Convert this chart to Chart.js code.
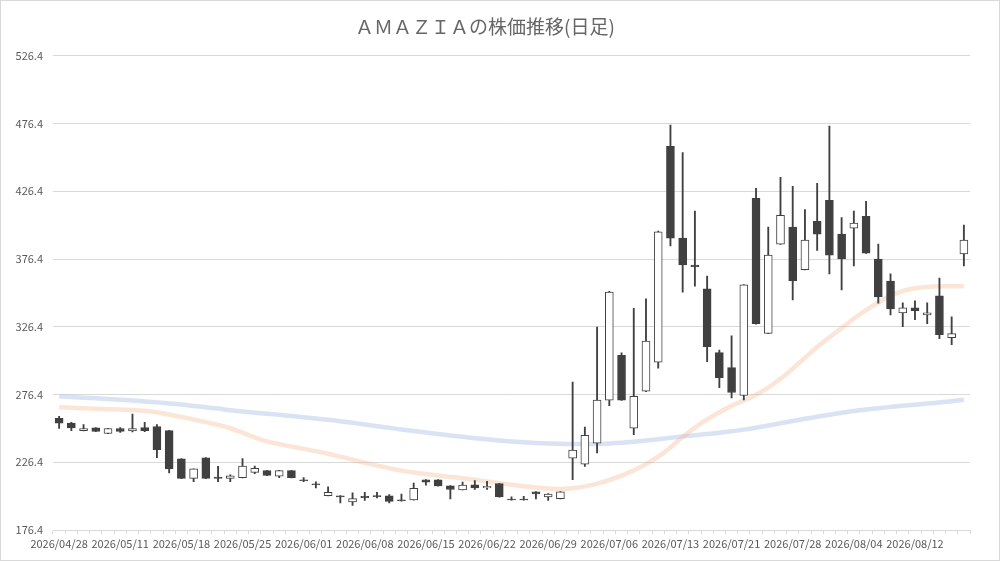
<!DOCTYPE html>
<html>
<head>
<meta charset="utf-8">
<script src="https://cdn.jsdelivr.net/npm/chart.js@4.4.1/dist/chart.umd.min.js"></script>
<style>
  html, body { margin: 0; padding: 0; background: #fff; }
  #wrap { width: 1000px; height: 561px; }
</style>
</head>
<body>
<div id="wrap"><canvas id="myChart" width="1000" height="561"></canvas></div>
<script>
// trading days (every 5th one is shown on the axis)
const dates = [
  "2026/04/28", "2026/04/30", "2026/05/01", "2026/05/07", "2026/05/08",
  "2026/05/11", "2026/05/12", "2026/05/13", "2026/05/14", "2026/05/15",
  "2026/05/18", "2026/05/19", "2026/05/20", "2026/05/21", "2026/05/22",
  "2026/05/25", "2026/05/26", "2026/05/27", "2026/05/28", "2026/05/29",
  "2026/06/01", "2026/06/02", "2026/06/03", "2026/06/04", "2026/06/05",
  "2026/06/08", "2026/06/09", "2026/06/10", "2026/06/11", "2026/06/12",
  "2026/06/15", "2026/06/16", "2026/06/17", "2026/06/18", "2026/06/19",
  "2026/06/22", "2026/06/23", "2026/06/24", "2026/06/25", "2026/06/26",
  "2026/06/29", "2026/06/30", "2026/07/01", "2026/07/02", "2026/07/03",
  "2026/07/06", "2026/07/07", "2026/07/08", "2026/07/09", "2026/07/10",
  "2026/07/13", "2026/07/14", "2026/07/15", "2026/07/16", "2026/07/17",
  "2026/07/21", "2026/07/22", "2026/07/23", "2026/07/24", "2026/07/27",
  "2026/07/28", "2026/07/29", "2026/07/30", "2026/07/31", "2026/08/03",
  "2026/08/04", "2026/08/05", "2026/08/06", "2026/08/07", "2026/08/10",
  "2026/08/12", "2026/08/13", "2026/08/14", "2026/08/17", "2026/08/18",
];

const opens = [
  258.8, 255.3, 249.8, 251.8, 247.6, 251.3, 249.5, 252.0, 252.8, 249.8,
  228.9, 214.5, 229.7, 215.5, 214.5, 215.0, 218.9, 220.2, 216.2, 220.2,
  213.5, 210.5, 201.8, 201.6, 197.1, 201.3, 201.8, 201.6, 198.6, 198.6,
  213.5, 213.5, 209.0, 206.0, 209.8, 207.5, 210.7, 199.3, 199.3, 204.5,
  200.8, 199.5, 229.4, 224.9, 240.4, 272.2, 305.4, 251.5, 278.8, 300.3,
  459.5, 391.8, 372.0, 354.4, 307.3, 296.3, 275.7, 421.2, 321.5, 387.4,
  399.9, 368.5, 404.3, 419.8, 394.8, 399.2, 408.0, 376.4, 360.2, 336.7,
  340.4, 335.2, 349.2, 318.3, 380.1,
];
const highs = [
  260.3, 255.8, 254.3, 252.0, 251.5, 252.0, 262.0, 255.8, 254.3, 250.0,
  229.1, 221.5, 229.9, 223.4, 217.2, 229.2, 223.6, 220.5, 220.4, 220.4,
  215.0, 212.0, 208.3, 201.8, 203.8, 204.2, 204.2, 202.5, 203.0, 211.0,
  213.7, 213.7, 209.2, 211.7, 212.8, 212.4, 210.9, 200.8, 201.3, 204.7,
  203.2, 204.7, 285.5, 252.3, 326.1, 352.5, 307.1, 340.1, 347.0, 397.0,
  475.3, 455.0, 411.7, 363.9, 309.2, 319.8, 357.5, 428.6, 399.9, 436.7,
  430.1, 412.9, 432.3, 474.6, 407.0, 411.7, 419.0, 387.4, 365.4, 344.0,
  345.5, 344.0, 362.4, 333.8, 401.4,
];
const lows = [
  251.3, 249.8, 249.6, 249.0, 247.5, 248.5, 248.7, 249.0, 229.7, 218.5,
  214.2, 212.0, 214.2, 212.0, 212.0, 214.8, 218.0, 216.5, 215.0, 214.8,
  212.0, 207.5, 201.5, 196.3, 194.5, 198.3, 200.0, 196.3, 197.6, 198.4,
  209.5, 208.8, 199.3, 206.0, 206.3, 206.3, 200.6, 198.4, 198.4, 199.3,
  198.3, 199.3, 213.5, 223.4, 233.3, 268.2, 272.0, 246.8, 278.5, 295.8,
  386.0, 351.9, 356.3, 300.7, 281.5, 273.8, 272.5, 328.4, 321.3, 387.2,
  346.3, 368.3, 382.7, 365.4, 353.6, 371.3, 380.6, 343.8, 335.2, 326.4,
  331.6, 328.6, 317.6, 313.2, 371.3,
];
const closes = [
  255.3, 251.8, 251.3, 249.1, 251.3, 249.1, 251.3, 249.8, 235.7, 221.5,
  214.5, 221.5, 214.5, 214.5, 216.3, 223.6, 221.9, 216.7, 220.2, 215.0,
  212.8, 209.8, 204.2, 200.8, 199.5, 200.3, 201.0, 197.5, 197.8, 207.2,
  211.7, 209.0, 206.3, 209.5, 207.5, 208.7, 200.8, 198.6, 198.6, 203.0,
  203.0, 204.5, 235.3, 246.3, 272.2, 352.0, 272.2, 275.1, 315.8, 396.5,
  391.8, 372.0, 370.5, 311.7, 288.9, 277.9, 357.3, 328.6, 379.3, 408.7,
  360.2, 390.4, 394.8, 379.3, 376.4, 402.9, 380.8, 348.5, 339.6, 340.4,
  338.2, 336.7, 320.5, 321.3, 390.4,
];

// moving averages as drawn (short = orange, long = blue)
const maShort = [
  267.0, 266.6, 266.2, 265.9, 265.6, 265.3, 265.0, 264.4, 263.3, 261.6,
  259.8, 258.0, 256.0, 254.0, 251.5, 248.2, 244.8, 241.8, 239.8, 238.0,
  236.3, 234.6, 232.7, 230.6, 228.3, 226.0, 224.0, 222.0, 220.2, 218.8,
  217.7, 216.6, 215.6, 214.6, 213.5, 212.3, 211.0, 209.8, 208.7, 207.8,
  207.0, 206.6, 207.3, 208.6, 210.6, 213.3, 216.6, 220.4, 225.0, 230.5,
  237.3, 245.0, 252.0, 258.0, 263.3, 268.0, 272.0, 276.3, 281.5, 288.0,
  295.5, 303.5, 311.5, 318.5, 325.5, 332.3, 338.6, 344.3, 349.3, 352.8,
  354.8, 355.8, 356.3, 356.4, 356.3,
];
const maLong = [
  275.0, 274.6, 274.1, 273.6, 273.1, 272.6, 272.0, 271.3, 270.6, 269.8,
  269.0, 268.0, 267.0, 266.0, 264.8, 263.8, 263.0, 262.2, 261.4, 260.5,
  259.6, 258.7, 257.8, 256.7, 255.5, 254.3, 253.0, 251.8, 250.6, 249.4,
  248.3, 247.2, 246.2, 245.2, 244.2, 243.3, 242.5, 241.8, 241.2, 240.7,
  240.3, 240.0, 239.8, 239.8, 240.0, 240.3, 240.8, 241.5, 242.4, 243.4,
  244.5, 245.5, 246.4, 247.2, 248.2, 249.3, 250.5, 251.9, 253.5, 255.2,
  256.9, 258.5, 260.0, 261.5, 262.9, 264.2, 265.3, 266.3, 267.2, 268.1,
  268.9, 269.7, 270.5, 271.4, 272.5,
];

const yMin = 176.4;
const yMax = 526.4;
const yStep = 50;

const bodies = opens.map((o, i) => [o, closes[i]]);
const wicks = lows.map((l, i) => [l, highs[i]]);
const bodyFill = opens.map((o, i) => (closes[i] >= o ? "#ffffff" : "#404040"));

const frame = {
  id: "frame",
  beforeDraw(chart) {
    const c = chart.ctx;
    c.save();
    c.fillStyle = "#fff";
    c.fillRect(0, 0, chart.width, chart.height);
    c.restore();
  },
  afterDraw(chart) {
    const c = chart.ctx;
    c.save();
    c.strokeStyle = "#d9d9d9";
    c.lineWidth = 1;
    c.strokeRect(0.5, 0.5, chart.width - 1, chart.height - 1);
    c.restore();
  },
};

const ctx = document.getElementById("myChart").getContext("2d");

const myChart = new Chart(ctx, {
  type: "bar",
  data: {
    labels: dates,
    datasets: [
      {
        type: "line",
        label: "MA long",
        data: maLong,
        borderColor: "rgba(180, 199, 231, 0.5)",
        borderWidth: 4.5,
        pointRadius: 0,
        cubicInterpolationMode: "monotone",
        fill: false,
        order: 4,
      },
      {
        type: "line",
        label: "MA short",
        data: maShort,
        borderColor: "rgba(244, 177, 131, 0.33)",
        borderWidth: 4.5,
        pointRadius: 0,
        cubicInterpolationMode: "monotone",
        fill: false,
        order: 3,
      },
      {
        label: "wick",
        data: wicks,
        backgroundColor: "#404040",
        barThickness: 1.2,
        grouped: false,
        order: 2,
      },
      {
        label: "body",
        data: bodies,
        backgroundColor: bodyFill,
        borderColor: "#404040",
        borderWidth: 1,
        borderSkipped: false,
        barThickness: 8,
        grouped: false,
        order: 1,
      },
    ],
  },
  options: {
    responsive: false,
    animation: false,
    layout: { padding: { top: 0, right: 30, bottom: 0, left: 0 } },
    scales: {
      x: {
        offset: true,
        afterFit: (scale) => { scale.height = 31; },
        grid: {
          offset: true,
          drawOnChartArea: false,
          drawTicks: true,
          tickLength: 4,
          color: "#d9d9d9",
        },
        border: { display: true, color: "#d9d9d9" },
        ticks: {
          autoSkip: false,
          maxRotation: 0,
          padding: 3,
          color: "#595959",
          font: { family: "'Noto Sans CJK JP'", size: 11 },
          callback: function (value, index) {
            return index % 5 === 0 ? this.getLabelForValue(value) : "";
          },
        },
      },
      y: {
        min: yMin,
        max: yMax,
        afterFit: (scale) => { scale.width = 53; },
        grid: { color: "#d9d9d9", drawTicks: false },
        border: { display: false },
        ticks: {
          stepSize: yStep,
          padding: 10,
          color: "#595959",
          font: { family: "'Noto Sans CJK JP'", size: 11 },
          callback: (v) => Number(v).toFixed(1),
        },
      },
    },
    plugins: {
      legend: { display: false },
      tooltip: { enabled: false },
      title: {
        display: true,
        text: "ＡＭＡＺＩＡの株価推移(日足)",
        color: "#666666",
        font: { family: "'Noto Sans CJK JP'", size: 19, weight: "normal" },
        padding: { top: 15, bottom: 18 },
      },
    },
  },
  plugins: [frame],
});
</script>
</body>
</html>
